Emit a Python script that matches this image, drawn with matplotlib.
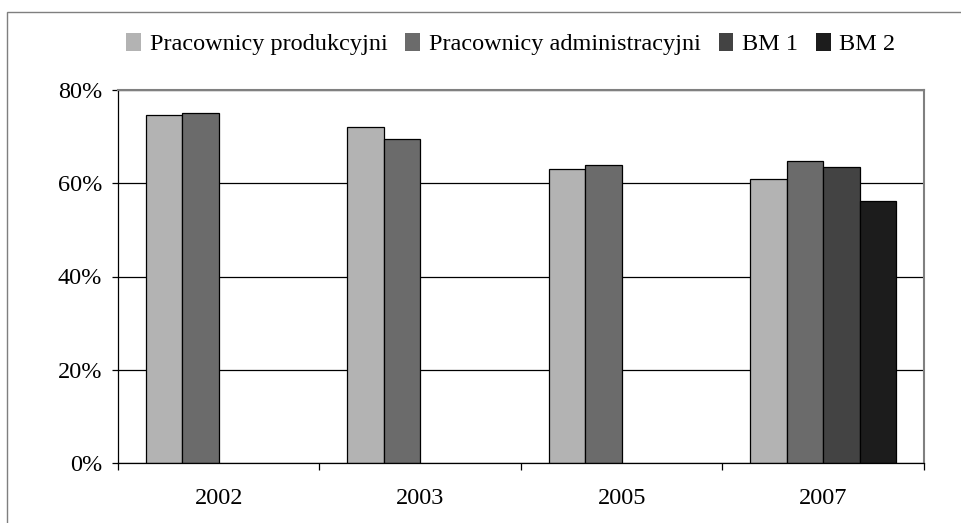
#!/usr/bin/python
# -*- coding: utf-8 -*-
"""
Grouped bar chart of shares (in %) per year for four employee groups.
"""
###############################################################################
import numpy as np
import matplotlib
matplotlib.use('Agg')
import matplotlib.pyplot as plt
from matplotlib.patches import Rectangle
from matplotlib.ticker import FixedLocator, NullFormatter, FuncFormatter
###############################################################################

#### Data
##############################################################################
years = ['2002', '2003', '2005', '2007']
series_names = ['Pracownicy produkcyjni', 'Pracownicy administracyjni',
                'BM 1', 'BM 2']
produkcyjni = [74.7, 72.1, 63.1, 60.9]
administracyjni = [75.1, 69.5, 63.9, 64.8]
bm1 = [np.nan, np.nan, np.nan, 63.5]
bm2 = [np.nan, np.nan, np.nan, 56.2]
y_ticks = [0, 20, 40, 60, 80]

#### Style
##############################################################################
colors = ['#b3b3b3', '#6b6b6b', '#434343', '#1c1c1c']
plt.rcParams['font.family'] = ['Liberation Serif', 'DejaVu Serif']
fs = 17.5

#### Plot
##############################################################################
W, H = 962, 523
fig = plt.figure(figsize=(W / 100, H / 100), dpi=100)

# outer chart frame (cut off at right and bottom edges like the original)
fig.patches.append(Rectangle((7 / W, -0.05), 1.2, 1 - 12 / H + 0.05,
                             transform=fig.transFigure, fill=False,
                             edgecolor='#7f7f7f', lw=1.0, clip_on=False))

ax = fig.add_axes([118 / W, (H - 463) / H, 806 / W, 373 / H])

x = np.arange(len(years))
w = 0.181
all_series = [produkcyjni, administracyjni, bm1, bm2]
for i, (vals, name, c) in enumerate(zip(all_series, series_names, colors)):
    ax.bar(x + (i - 1.5) * w, vals, width=w, color=c, edgecolor='black',
           linewidth=0.9, label=name, zorder=3)

ax.set_xlim(-0.5, len(years) - 0.5)
ax.set_ylim(0, 80)

# gridlines
ax.set_yticks(y_ticks)
ax.yaxis.set_major_formatter(FuncFormatter(lambda v, p: '{:.0f}%'.format(v)))
ax.grid(axis='y', color='black', lw=0.9, zorder=0)

# x: ticks between categories, labels at category centres
ax.xaxis.set_major_locator(FixedLocator(np.arange(-0.5, len(years), 1.0)))
ax.xaxis.set_major_formatter(NullFormatter())
ax.xaxis.set_minor_locator(FixedLocator(x))
ax.set_xticklabels(years, minor=True)
ax.tick_params(axis='x', which='major', direction='out', length=5,
               width=0.9, color='black')
ax.tick_params(axis='x', which='minor', length=0, pad=18, labelsize=fs)
ax.tick_params(axis='y', direction='out', length=4.5, width=0.9, pad=7,
               labelsize=fs)

for s in ['left', 'bottom']:
    ax.spines[s].set_color('black')
    ax.spines[s].set_linewidth(0.9)
for s in ['top', 'right']:
    ax.spines[s].set_color('#808080')
    ax.spines[s].set_linewidth(1.5)
ax.spines['bottom'].set_zorder(4)

fig.legend(loc='center', bbox_to_anchor=(0.531, 1 - 44 / H), ncol=4,
           frameon=False, fontsize=fs, handlelength=0.6, handleheight=0.75,
           handletextpad=0.35, columnspacing=0.75, borderpad=0)
for h in fig.legends[0].legend_handles:
    h.set_edgecolor('none')

fig.savefig('out.png', dpi=100)
